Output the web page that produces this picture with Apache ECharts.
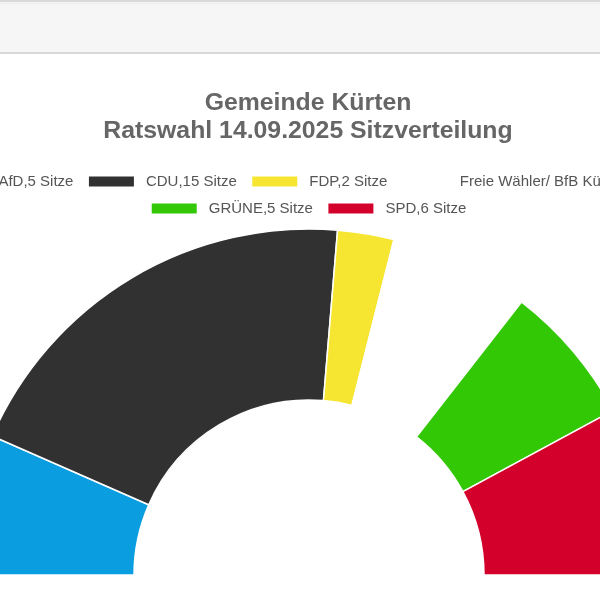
<!DOCTYPE html>
<html>
<head>
<meta charset="utf-8">
<script src="https://cdn.jsdelivr.net/npm/echarts@6/dist/echarts.min.js"></script>
<style>
html,body{margin:0;padding:0;width:600px;height:600px;overflow:hidden;background:#fff;}
#chart{position:absolute;left:-72px;top:0;width:760px;height:600px;}
</style>
</head>
<body>
<div id="chart"></div>
<script>
const titleLines = ['Gemeinde Kürten', 'Ratswahl 14.09.2025 Sitzverteilung'];
const parties = ['AfD', 'CDU', 'FDP', 'Freie Wähler/ BfB Kürten', 'GRÜNE', 'SPD'];
const seats = [5, 15, 2, 5, 5, 6];
const colors = ['#0a9de0', '#313131', '#f6e631', '#ffffff', '#33c806', '#d2002a'];
const unit = 'Sitze';

const names = parties.map((p, i) => p + ',' + seats[i] + ' ' + unit);
const FONT = '"Liberation Sans", Arial, sans-serif';

const legendBase = {
  left: 'center',
  itemWidth: 47,
  itemHeight: 12,
  itemGap: 13.5,
  icon: 'rect',
  textStyle: {fontFamily: FONT, fontSize: 15, color: '#555555', lineHeight: 13, padding: [0, 0, 0, 6]}
};

const chart = echarts.init(document.getElementById('chart'), null, {renderer: 'canvas'});
chart.setOption({
  animation: false,
  backgroundColor: '#ffffff',
  graphic: [
    {type: 'rect', left: 0, top: 0, shape: {width: 760, height: 2}, style: {fill: '#d9d9d9'}},
    {type: 'rect', left: 0, top: 2, shape: {width: 760, height: 50}, style: {fill: '#f6f6f6'}},
    {type: 'rect', left: 0, top: 3, shape: {width: 760, height: 1}, style: {fill: '#ececec'}},
    {type: 'rect', left: 0, top: 52, shape: {width: 760, height: 2}, style: {fill: '#d9d9d9'}}
  ],
  title: {
    text: titleLines.join('\n'),
    left: 'center',
    top: 84,
    textStyle: {fontFamily: FONT, fontSize: 24.8, fontWeight: 'bold', color: '#666666', lineHeight: 28}
  },
  legend: [
    Object.assign({}, legendBase, {data: names.slice(0, 4), top: 169}),
    Object.assign({}, legendBase, {data: names.slice(4), top: 196})
  ],
  series: [{
    type: 'pie',
    center: [381, 575],
    radius: [175, 346],
    startAngle: 180,
    endAngle: 0,
    clockwise: true,
    label: {show: false},
    labelLine: {show: false},
    itemStyle: {borderColor: '#ffffff', borderWidth: 1.5},
    data: names.map((n, i) => ({name: n, value: seats[i], itemStyle: {color: colors[i]}}))
  }]
});
</script>
</body>
</html>
